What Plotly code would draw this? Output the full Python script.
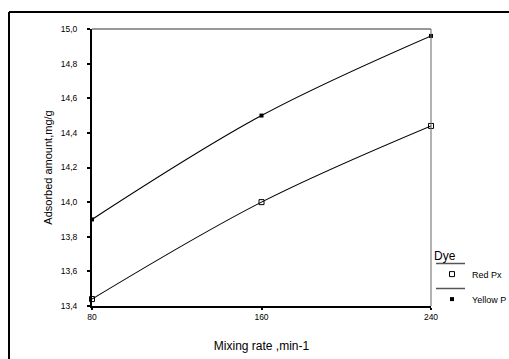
import plotly.graph_objects as go

# Mixing rate (min-1) and adsorbed amount (mg/g) for each dye
mixing_rate = [80, 160, 240]
red_px = [13.44, 14.00, 14.44]
yellow_p = [13.90, 14.50, 14.96]

x_ticks = [80, 160, 240]
y_ticks = [13.4, 13.6, 13.8, 14.0, 14.2, 14.4, 14.6, 14.8, 15.0]

W, H = 509, 359
L, R, T, B = 92, 78, 29, 53
PW, PH = W - L - R, H - T - B


def px_x(p):
    return (p - L) / PW


def px_y(p):
    return 1 - (p - T) / PH


FONT = "Liberation Sans, Arial, sans-serif"

fig = go.Figure()

series = [
    ("Red Px", red_px, dict(symbol="square-open", size=5, color="black", line=dict(width=1, color="black"))),
    ("Yellow P", yellow_p, dict(symbol="square", size=4, color="black")),
]
for name, vals, marker in series:
    fig.add_trace(go.Scatter(
        x=mixing_rate, y=vals, mode="lines",
        line=dict(color="black", width=1.1, shape="spline", smoothing=1.0),
        showlegend=False, hoverinfo="skip", cliponaxis=False,
    ))
    fig.add_trace(go.Scatter(
        x=mixing_rate, y=vals, mode="markers", name=name,
        marker=marker, legendgroup=name, cliponaxis=False,
    ))

# outer frame (left and top edges) and the thin top/right plot borders
shapes = [
    dict(type="line", xref="paper", yref="paper", x0=px_x(9), x1=px_x(520),
         y0=px_y(12), y1=px_y(12), line=dict(color="black", width=2)),
    dict(type="line", xref="paper", yref="paper", x0=px_x(9), x1=px_x(9),
         y0=px_y(12), y1=px_y(370), line=dict(color="black", width=2)),
    dict(type="line", xref="paper", yref="paper", x0=0, x1=1, y0=1, y1=1,
         line=dict(color="#333333", width=1)),
    dict(type="line", xref="paper", yref="paper", x0=1, x1=1, y0=0, y1=1,
         line=dict(color="#666666", width=1)),
    # legend separators
    dict(type="line", xref="paper", yref="paper", x0=px_x(436), x1=px_x(465),
         y0=px_y(263.5), y1=px_y(263.5), line=dict(color="#555555", width=1.5)),
    dict(type="line", xref="paper", yref="paper", x0=px_x(436), x1=px_x(465),
         y0=px_y(288.5), y1=px_y(288.5), line=dict(color="#555555", width=1.5)),
]

fig.update_layout(
    width=W, height=H,
    margin=dict(l=L, r=R, t=T, b=B, autoexpand=False),
    paper_bgcolor="white", plot_bgcolor="white",
    separators=",.",
    font=dict(family=FONT, color="black", size=8.5),
    shapes=shapes,
    showlegend=True,
    legend=dict(
        x=px_x(432), y=px_y(244), xanchor="left", yanchor="top",
        bgcolor="rgba(0,0,0,0)", borderwidth=0,
        title=dict(text="Dye", font=dict(size=12, family=FONT)),
        font=dict(size=9, family=FONT),
        tracegroupgap=6,
    ),
    xaxis=dict(
        range=[80, 240], tickvals=x_ticks, ticktext=[str(v) for v in x_ticks],
        showgrid=False, zeroline=False,
        showline=True, linecolor="black", linewidth=2,
        ticks="outside", ticklen=2, tickwidth=1.5, tickcolor="black",
        tickfont=dict(size=8.5),
        title=dict(text="Mixing rate ,min-1", font=dict(size=12), standoff=20),
    ),
    yaxis=dict(
        range=[13.4, 15.0], tickvals=y_ticks, tickformat=".1f",
        showgrid=False, zeroline=False,
        showline=True, linecolor="black", linewidth=2,
        ticks="outside", ticklen=3, tickwidth=2, tickcolor="black",
        tickfont=dict(size=8.5), ticklabelstandoff=8,
        title=dict(text="Adsorbed amount,mg/g", font=dict(size=11), standoff=6),
    ),
)

fig.write_html("out.html")
